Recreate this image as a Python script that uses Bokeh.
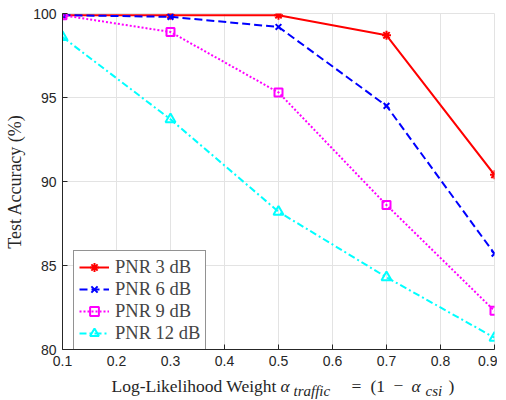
from bokeh.plotting import figure
from bokeh.models import FixedTicker, Legend, Range1d
from bokeh.layouts import column
from bokeh.core.properties import value
from bokeh.embed import file_html
from bokeh.resources import INLINE

# ---- data ----
weights = [0.1, 0.3, 0.5, 0.7, 0.9]
pnr3 = [99.9, 99.9, 99.9, 98.7, 90.4]
pnr6 = [99.9, 99.8, 99.2, 94.5, 85.7]
pnr9 = [99.9, 98.9, 95.3, 88.6, 82.3]
pnr12 = [98.6, 93.7, 88.2, 84.3, 80.7]
x_ticks = [0.1, 0.2, 0.3, 0.4, 0.5, 0.6, 0.7, 0.8, 0.9]
y_ticks = [80, 85, 90, 95, 100]

SERIF = "Liberation Serif"
SANS = "Liberation Sans"
AX = "#262626"
GRID = "#e3e3e3"

p = figure(width=497, height=369, x_range=(0.1, 0.9), y_range=(80, 100),
           output_backend="svg", toolbar_location=None,
           min_border_left=62, min_border_right=3, min_border_top=13,
           min_border_bottom=20, background_fill_color="white",
           border_fill_color="white")
p.outline_line_color = GRID
p.outline_line_width = 1

for ax in (p.xaxis[0], p.yaxis[0]):
    ax.major_tick_in = 5
    ax.major_tick_out = 0
    ax.minor_tick_line_color = None
    ax.axis_line_color = AX
    ax.major_tick_line_color = AX
    ax.major_label_text_font = SANS
    ax.major_label_text_font_size = "14px"
    ax.major_label_text_color = AX

p.xaxis.ticker = FixedTicker(ticks=x_ticks)
p.yaxis.ticker = FixedTicker(ticks=y_ticks)
p.xaxis.major_label_overrides = {t: f"{t:.1f}" for t in x_ticks}
p.xaxis.major_label_standoff = 6
p.yaxis.major_label_standoff = 6
p.yaxis.axis_label = "Test Accuracy (%)"
p.yaxis.axis_label_text_font = SERIF
p.yaxis.axis_label_text_font_style = "normal"
p.yaxis.axis_label_text_font_size = "18px"
p.yaxis.axis_label_text_color = AX
p.yaxis.axis_label_standoff = 5

p.xgrid.grid_line_color = GRID
p.ygrid.grid_line_color = GRID

series = [
    ("PNR 3 dB", pnr3, "#ff0000", "solid", "asterisk", 9),
    ("PNR 6 dB", pnr6, "#0000ff", "8 4", "x", 8),
    ("PNR 9 dB", pnr9, "#ff00ff", "2 2", "square", 8),
    ("PNR 12 dB", pnr12, "#00ffff", "7 3 2 3", "triangle", 10),
]
items = []
for name, ys, col, dash, mk, sz in series:
    r1 = p.line(weights, ys, line_color=col, line_width=2, line_dash=dash)
    r2 = p.scatter(weights, ys, marker=mk, size=sz, line_color=col,
                   fill_color=None, line_width=2)
    items.append((name, [r1, r2]))

legend = Legend(items=items, location=(11, -1), margin=0, padding=5,
                spacing=0, glyph_width=30, glyph_height=22, label_height=22,
                label_standoff=6, label_text_font=SERIF,
                label_text_font_size="18.5px", border_line_color=AX,
                border_line_width=1, background_fill_color="white",
                background_fill_alpha=1)
p.add_layout(legend, "center")

# ---- x-axis label strip (shares the x range, frame aligned with p) ----
q = figure(width=497, height=30, x_range=p.x_range, y_range=Range1d(0, 30),
           output_backend="svg", toolbar_location=None,
           x_axis_location=None, y_axis_location=None,
           min_border_left=62, min_border_right=3, min_border_top=0,
           min_border_bottom=0, background_fill_color="white",
           border_fill_color="white")
q.outline_line_color = None
q.xgrid.visible = False
q.ygrid.visible = False

def px2x(px):
    return 0.1 + (px - 63) * 0.8 / 432

def py2strip(py):
    return 400 - py

segs = [
    ("Log-Likelihood Weight", 112, 386, "normal", "17.5px"),
    ("\u03b1", 281, 386, "italic", "17.5px"),
    ("traffic", 294, 391, "italic", "15px"),
    ("=", 352, 386, "normal", "17.5px"),
    ("(1", 371, 386, "normal", "17.5px"),
    ("\u2212", 394, 386, "normal", "17.5px"),
    ("\u03b1", 412, 386, "italic", "17.5px"),
    ("csi", 426, 391, "italic", "15px"),
    (")", 449, 386, "normal", "17.5px"),
]
for txt, sx, sy, style, size in segs:
    q.text(x=[px2x(sx)], y=[py2strip(sy)], text=[txt],
           text_font=value(SERIF), text_font_style=style,
           text_font_size=size, text_color=AX, text_align="left",
           text_baseline="alphabetic")

layout = column(p, q, spacing=0)
open("out.html", "w").write(file_html(layout, INLINE))
